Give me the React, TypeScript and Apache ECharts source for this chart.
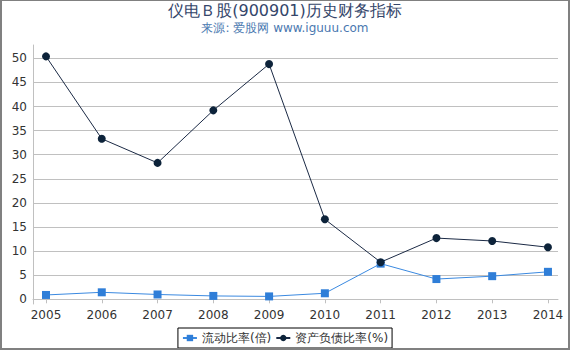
import React, { useEffect, useRef } from "react";
import * as echarts from "echarts";

const years = [2005, 2006, 2007, 2008, 2009, 2010, 2011, 2012, 2013, 2014];
const currentRatio = [0.9, 1.45, 1.0, 0.7, 0.6, 1.25, 7.4, 4.2, 4.8, 5.7];
const debtRatio = [50.4, 33.3, 28.3, 39.2, 48.8, 16.6, 7.7, 12.7, 12.1, 10.8];
const yLabels = [0, 5, 10, 15, 20, 25, 30, 35, 40, 45, 50];
const yGrid = [5, 10, 15, 20, 25, 30, 35, 40, 45, 50];

const titleText = "仪电Ｂ股(900901)历史财务指标";
const subText = "来源: 爱股网 www.iguuu.com";
const seriesNames = ["流动比率(倍)", "资产负债比率(%)"];

export default function App() {
  const ref = useRef<HTMLDivElement>(null);
  useEffect(() => {
    if (!ref.current) return;
    const chart = echarts.init(ref.current, null, { renderer: "svg" });
    const font = "'DejaVu Sans', sans-serif";
    chart.setOption({
      animation: false,
      textStyle: { fontFamily: font },
      title: {
        text: titleText,
        subtext: subText,
        left: "center",
        top: -4,
        itemGap: 4,
        textStyle: { fontSize: 16, fontWeight: "normal", color: "#34466a", fontFamily: font },
        subtextStyle: { fontSize: 12, color: "#4a78b0", fontFamily: font },
      },
      legend: {
        bottom: 0,
        left: "center",
        borderColor: "#000",
        borderWidth: 1,
        borderRadius: 0,
        padding: [4, 4, 4, 4],
        itemGap: 4,
        itemWidth: 14,
        itemHeight: 8,
        textStyle: { fontSize: 12, color: "#333", fontFamily: font },
        data: seriesNames,
      },
      grid: { left: 31, right: 10, top: 44, bottom: 44, containLabel: false },
      xAxis: {
        type: "value",
        min: 2004.767,
        max: 2014.18,
        splitLine: { show: false },
        axisLine: { show: true, lineStyle: { color: "#c0c0c0" } },
        axisTick: { show: true, length: 4, customValues: years, lineStyle: { color: "#c0c0c0" } },
        axisLabel: {
          customValues: years,
          color: "#333",
          fontSize: 12,
          margin: 5,
          formatter: (v: number) => String(v),
        },
      },
      yAxis: {
        type: "value",
        min: -0.975,
        max: 52.76,
        axisLine: { show: true, lineStyle: { color: "#c0c0c0" } },
        axisTick: { show: false, customValues: yGrid },
        splitLine: { show: true, lineStyle: { color: "#c0c0c0", width: 1 } },
        axisLabel: {
          customValues: yLabels,
          color: "#333",
          fontSize: 12,
          margin: 6,
        },
      },
      series: [
        {
          name: seriesNames[0],
          type: "line",
          data: years.map((y, i) => [y, currentRatio[i]]),
          symbol: "rect",
          symbolSize: 8,
          lineStyle: { width: 1, color: "#3a89e0" },
          itemStyle: { color: "#2f7ed8" },
          z: 2,
        },
        {
          name: seriesNames[1],
          type: "line",
          data: years.map((y, i) => [y, debtRatio[i]]),
          symbol: "circle",
          symbolSize: 8,
          lineStyle: { width: 1, color: "#1b2a45" },
          itemStyle: { color: "#0d233a" },
          z: 3,
        },
      ],
    });
    return () => chart.dispose();
  }, []);
  return (
    <div
      style={{
        position: "absolute",
        left: 0,
        top: 0,
        width: 570,
        height: 350,
        boxSizing: "border-box",
        borderStyle: "solid",
        borderColor: "#808080",
        borderWidth: "1px 2px 2px 2px",
        background: "#fff",
      }}
    >
      <div ref={ref} style={{ width: 566, height: 347 }} />
    </div>
  );
}
